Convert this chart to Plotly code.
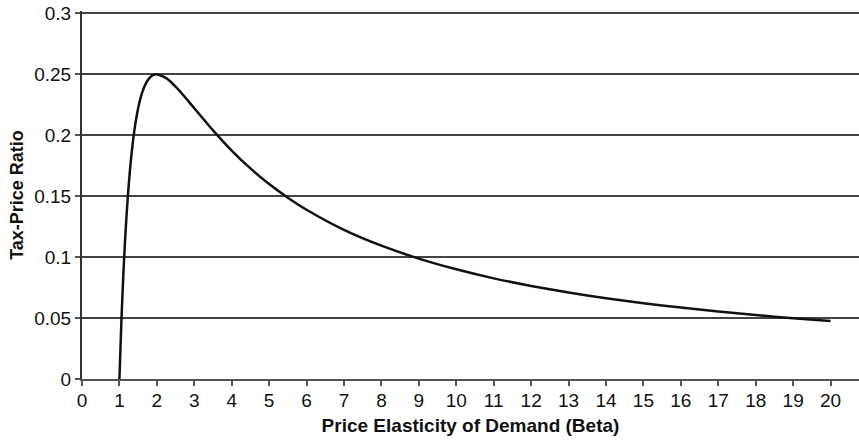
import plotly.graph_objects as go

beta = [1.0, 1.05, 1.1, 1.15, 1.2, 1.3, 1.4, 1.5, 1.6, 1.7, 1.8, 1.9, 2.0, 2.25, 2.5, 2.75,
        3.0, 3.5, 4.0, 4.5, 5.0, 5.5, 6.0, 7.0, 8.0, 9.0, 10.0, 11.0, 12.0, 13.0, 14.0,
        15.0, 16.0, 17.0, 18.0, 19.0, 20.0]
ratio = [0.0, 0.0454, 0.0826, 0.1134, 0.1389, 0.1775, 0.2041, 0.2222, 0.2344, 0.2422,
         0.2469, 0.2493, 0.25, 0.2469, 0.24, 0.2314, 0.2222, 0.2041, 0.1875, 0.1728,
         0.16, 0.1488, 0.1389, 0.1224, 0.1094, 0.0988, 0.09, 0.0826, 0.0764, 0.0710,
         0.0663, 0.0622, 0.0586, 0.0554, 0.0525, 0.0499, 0.0475]
x_ticks = list(range(0, 21))
y_ticks = [0, 0.05, 0.1, 0.15, 0.2, 0.25, 0.3]
y_labels = ["0", "0.05", "0.1", "0.15", "0.2", "0.25", "0.3"]

fam = "Liberation Sans, Arial, sans-serif"
fig = go.Figure()
fig.add_trace(go.Scatter(x=beta, y=ratio, mode="lines",
                         line=dict(color="#111111", width=2.5, shape="spline", smoothing=0.6),
                         showlegend=False, hoverinfo="skip"))

fig.update_layout(
    width=859, height=440,
    margin=dict(l=82, r=0, t=11, b=61, autoexpand=False),
    paper_bgcolor="white", plot_bgcolor="white",
    font=dict(family=fam, size=19, color="#111111"),
    xaxis=dict(range=[0, 20.76], tickvals=x_ticks, ticktext=[str(v) for v in x_ticks],
               showgrid=False, zeroline=False, showline=True, linecolor="#555555", linewidth=1.5,
               ticks="outside", ticklen=5, tickcolor="#555555", tickwidth=1.5,
               ticklabelstandoff=-2,
               tickfont=dict(family=fam, size=19, color="#111111"), automargin=False,
               title=dict(text="<b>Price Elasticity of Demand (Beta)</b>",
                          font=dict(family=fam, size=19, color="#111111"),
                          standoff=9)),
    yaxis=dict(range=[0, 0.302], tickvals=y_ticks, ticktext=y_labels,
               showgrid=True, gridcolor="#444444", gridwidth=1.5, zeroline=False,
               showline=True, linecolor="#333333", linewidth=2,
               ticks="outside", ticklen=5, tickcolor="#555555", tickwidth=1.5,
               tickfont=dict(family=fam, size=19, color="#111111"), automargin=False,
               title=dict(text="<b>Tax-Price Ratio</b>",
                          font=dict(family=fam, size=18, color="#111111"),
                          standoff=6)),
)
fig.write_html("out.html", config={"displayModeBar": False},
               post_script="document.body.style.margin='0';")
